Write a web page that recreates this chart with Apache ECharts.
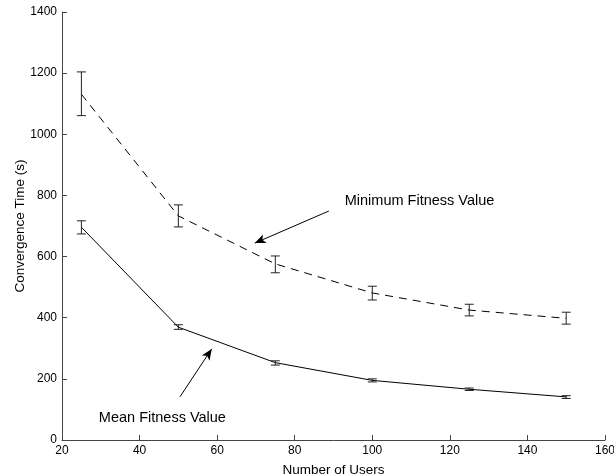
<!DOCTYPE html>
<html>
<head>
<meta charset="utf-8">
<script src="https://cdn.jsdelivr.net/npm/echarts/dist/echarts.min.js"></script>
<style>
  html, body { margin: 0; padding: 0; background: #fff; }
  #chart { width: 614px; height: 476px; }
</style>
</head>
<body>
<div id="chart"></div>
<script>
// Number of users on the x axis
const users = [25, 50, 75, 100, 125, 150];

// Convergence time (s) for the minimum fitness criterion, with error bar bounds
const minFitness = [1131, 733, 576, 481, 425, 398];
const minFitnessLow = [1061, 697, 547, 458, 406, 379];
const minFitnessHigh = [1204, 769, 602, 503, 444, 418];

// Convergence time (s) for the mean fitness criterion, with error bar bounds
const meanFitness = [696, 369, 253, 195, 166, 141];
const meanFitnessLow = [674, 362, 245, 190, 162, 136];
const meanFitnessHigh = [717, 377, 259, 200, 170, 145];

// Axis ranges
const xTicks = [20, 40, 60, 80, 100, 120, 140, 160];
const yTicks = [0, 200, 400, 600, 800, 1000, 1200, 1400];

// Annotation labels and their arrows: [tailX, tailY, tipX, tipY]
const minLabel = { text: 'Minimum Fitness Value', at: [92.9, 782] };
const minArrow = [88.8, 749, 69.7, 644];
const meanLabel = { text: 'Mean Fitness Value', at: [29.5, 72] };
const meanArrow = [50.4, 141, 58.6, 298];

const FONT = '"Liberation Sans", Arial, Helvetica, sans-serif';

function pairs(xs, ys) { return xs.map((x, i) => [x, ys[i]]); }
function bars(xs, lo, hi) { return xs.map((x, i) => [x, lo[i], hi[i]]); }

function errorBarRenderer(capHalf) {
  return function (params, api) {
    const x = api.value(0);
    const top = api.coord([x, api.value(2)]);
    const bot = api.coord([x, api.value(1)]);
    const style = { stroke: '#222', lineWidth: 1, fill: null };
    return {
      type: 'group',
      children: [
        { type: 'line', shape: { x1: top[0], y1: top[1], x2: bot[0], y2: bot[1] }, style },
        { type: 'line', shape: { x1: top[0] - capHalf, y1: top[1], x2: top[0] + capHalf, y2: top[1] }, style },
        { type: 'line', shape: { x1: bot[0] - capHalf, y1: bot[1], x2: bot[0] + capHalf, y2: bot[1] }, style }
      ]
    };
  };
}

function arrowLine(a) {
  return [[{ coord: [a[0], a[1]] }, { coord: [a[2], a[3]] }]];
}

const chart = echarts.init(document.getElementById('chart'), null, { renderer: 'canvas' });

chart.setOption({
  animation: false,
  backgroundColor: '#fff',
  textStyle: { fontFamily: FONT, color: '#000' },
  grid: { left: 62, right: 9, top: 12, bottom: 36, containLabel: false, outerBoundsMode: 'none' },
  xAxis: {
    type: 'value',
    min: xTicks[0],
    max: xTicks[xTicks.length - 1],
    interval: xTicks[1] - xTicks[0],
    name: 'Number of Users',
    nameLocation: 'middle',
    nameGap: 23,
    nameMoveOverlap: false,
    nameTextStyle: { fontFamily: FONT, fontSize: 13.5, color: '#000' },
    axisLine: { show: true, lineStyle: { color: '#444', width: 1 } },
    axisTick: { show: true, inside: true, length: 5, lineStyle: { color: '#444' } },
    axisLabel: { fontFamily: FONT, fontSize: 12, color: '#000', margin: 5, formatter: v => String(v) },
    splitLine: { show: false }
  },
  yAxis: {
    type: 'value',
    min: yTicks[0],
    max: yTicks[yTicks.length - 1],
    interval: yTicks[1] - yTicks[0],
    name: 'Convergence Time (s)',
    nameLocation: 'middle',
    nameGap: 35,
    nameMoveOverlap: false,
    nameRotate: 90,
    nameTextStyle: { fontFamily: FONT, fontSize: 13.5, color: '#000' },
    axisLine: { show: true, lineStyle: { color: '#444', width: 1 } },
    axisTick: { show: true, inside: true, length: 5, lineStyle: { color: '#444' } },
    axisLabel: { fontFamily: FONT, fontSize: 12, color: '#000', margin: 5, formatter: v => String(v) },
    splitLine: { show: false }
  },
  series: [
    {
      name: 'Minimum Fitness Value',
      type: 'line',
      data: pairs(users, minFitness),
      showSymbol: false,
      symbol: 'none',
      lineStyle: { color: '#000', width: 1, type: [8, 6] },
      z: 2,
      markLine: {
        silent: true,
        symbol: ['none', 'arrow'],
        symbolSize: [7, 11],
        lineStyle: { color: '#000', width: 1, type: 'solid' },
        label: { show: false },
        data: arrowLine(minArrow)
      },
      markPoint: {
        silent: true,
        symbol: 'circle',
        symbolSize: 0,
        label: {
          show: true, position: 'right', distance: 0,
          fontFamily: FONT, fontSize: 14.5, color: '#000',
          formatter: minLabel.text
        },
        data: [{ coord: minLabel.at }]
      }
    },
    {
      name: 'Mean Fitness Value',
      type: 'line',
      data: pairs(users, meanFitness),
      showSymbol: false,
      symbol: 'none',
      lineStyle: { color: '#000', width: 1, type: 'solid' },
      z: 2,
      markLine: {
        silent: true,
        symbol: ['none', 'arrow'],
        symbolSize: [7, 11],
        lineStyle: { color: '#000', width: 1, type: 'solid' },
        label: { show: false },
        data: arrowLine(meanArrow)
      },
      markPoint: {
        silent: true,
        symbol: 'circle',
        symbolSize: 0,
        label: {
          show: true, position: 'right', distance: 0,
          fontFamily: FONT, fontSize: 14.5, color: '#000',
          formatter: meanLabel.text
        },
        data: [{ coord: meanLabel.at }]
      }
    },
    {
      name: 'Minimum error',
      type: 'custom',
      renderItem: errorBarRenderer(4.5),
      data: bars(users, minFitnessLow, minFitnessHigh),
      encode: { x: 0, y: [1, 2] },
      z: 3
    },
    {
      name: 'Mean error',
      type: 'custom',
      renderItem: errorBarRenderer(4.5),
      data: bars(users, meanFitnessLow, meanFitnessHigh),
      encode: { x: 0, y: [1, 2] },
      z: 3
    }
  ]
});
</script>
</body>
</html>
